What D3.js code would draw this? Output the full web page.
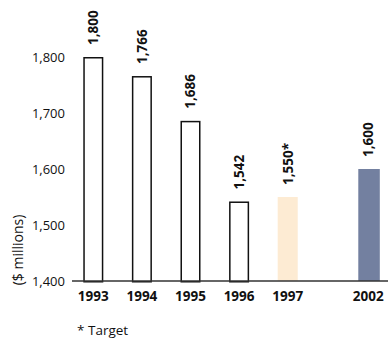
<!DOCTYPE html>
<html>
<head>
<meta charset="utf-8">
<script src="https://cdn.jsdelivr.net/npm/d3@7/dist/d3.min.js"></script>
<style>
  html, body { margin: 0; padding: 0; background: #fff; }
  svg { display: block; font-family: "Open Sans", "Noto Sans", sans-serif; }
</style>
</head>
<body>
<svg id="chart" width="388" height="341"></svg>
<script>
// Annual spending, $ millions
const years = ["1993", "1994", "1995", "1996", "1997", "2002"];
const values = [1800, 1766, 1686, 1542, 1550, 1600];
const valueLabels = ["1,800", "1,766", "1,686", "1,542", "1,550*", "1,600"];
const barKinds = ["actual", "actual", "actual", "actual", "target", "goal"];
const yTicks = [1400, 1500, 1600, 1700, 1800];
const footnote = "* Target";
const yTitle = "($ millions)";

const fills = { actual: "#ffffff", target: "#fdebd3", goal: "#7380a0" };
const strokes = { actual: "#111111", target: "none", goal: "none" };

const svg = d3.select("#chart");

const y = d3.scaleLinear().domain([1400, 1800]).range([281, 57]);

const x = d3.scaleBand()
  .domain(years)
  .range([69, 360.6])
  .paddingInner(0.588)
  .paddingOuter(0.294);

// years after the break in the series sit further right
const breakAfter = "1997";
const breakGap = 32;
const xPos = d => x(d) + (+d > +breakAfter ? breakGap : 0);

const data = years.map((yr, i) => ({
  year: yr, value: values[i], label: valueLabels[i], kind: barKinds[i]
}));

// bars
svg.append("g").selectAll("rect")
  .data(data)
  .join("rect")
  .attr("x", d => xPos(d.year) + (d.kind === "actual" ? 0.75 : 0))
  .attr("width", d => x.bandwidth() - (d.kind === "actual" ? 1.5 : 0) + (d.kind === "goal" ? 1.5 : 0))
  .attr("y", d => y(d.value) + (d.kind === "actual" ? 0.75 : 0))
  .attr("height", d => y(1400) - y(d.value))
  .attr("fill", d => fills[d.kind])
  .attr("stroke", d => strokes[d.kind])
  .attr("stroke-width", 1.5);

// baseline
svg.append("line")
  .attr("x1", 72).attr("x2", 388)
  .attr("y1", y(1400)).attr("y2", y(1400))
  .attr("stroke", "#333")
  .attr("stroke-width", 1.5);

// y tick labels
const yAxis = d3.axisLeft(y)
  .tickValues(yTicks)
  .tickFormat(d3.format(","))
  .tickSize(0)
  .tickPadding(0);
const gy = svg.append("g")
  .attr("transform", "translate(65,0)")
  .call(yAxis);
gy.select(".domain").remove();
gy.selectAll("text")
  .attr("font-family", "'Open Sans', sans-serif")
  .attr("font-size", 13)
  .attr("fill", "#111");

// x category labels
svg.append("g").selectAll("text")
  .data(data)
  .join("text")
  .attr("x", d => xPos(d.year) + x.bandwidth() / 2)
  .attr("y", 301)
  .attr("text-anchor", "middle")
  .attr("font-size", 13.5)
  .attr("font-weight", "bold")
  .attr("fill", "#111")
  .text(d => d.year);

// value labels, rotated above each bar
svg.append("g").selectAll("text")
  .data(data)
  .join("text")
  .attr("transform", d => `translate(${xPos(d.year) + x.bandwidth() / 2},${y(d.value) - 12}) rotate(-90)`)
  .attr("dy", "0.36em")
  .attr("text-anchor", "start")
  .attr("font-size", 13.5)
  .attr("font-weight", "bold")
  .attr("fill", "#111")
  .text(d => d.label);

// y title
svg.append("text")
  .attr("transform", "translate(18,250) rotate(-90)")
  .attr("dy", "0.36em")
  .attr("text-anchor", "middle")
  .attr("font-size", 14)
  .attr("fill", "#111")
  .text(yTitle);

// footnote
svg.append("text")
  .attr("x", 77)
  .attr("y", 335)
  .attr("font-size", 13.5)
  .attr("fill", "#111")
  .text(footnote);
</script>
</body>
</html>
